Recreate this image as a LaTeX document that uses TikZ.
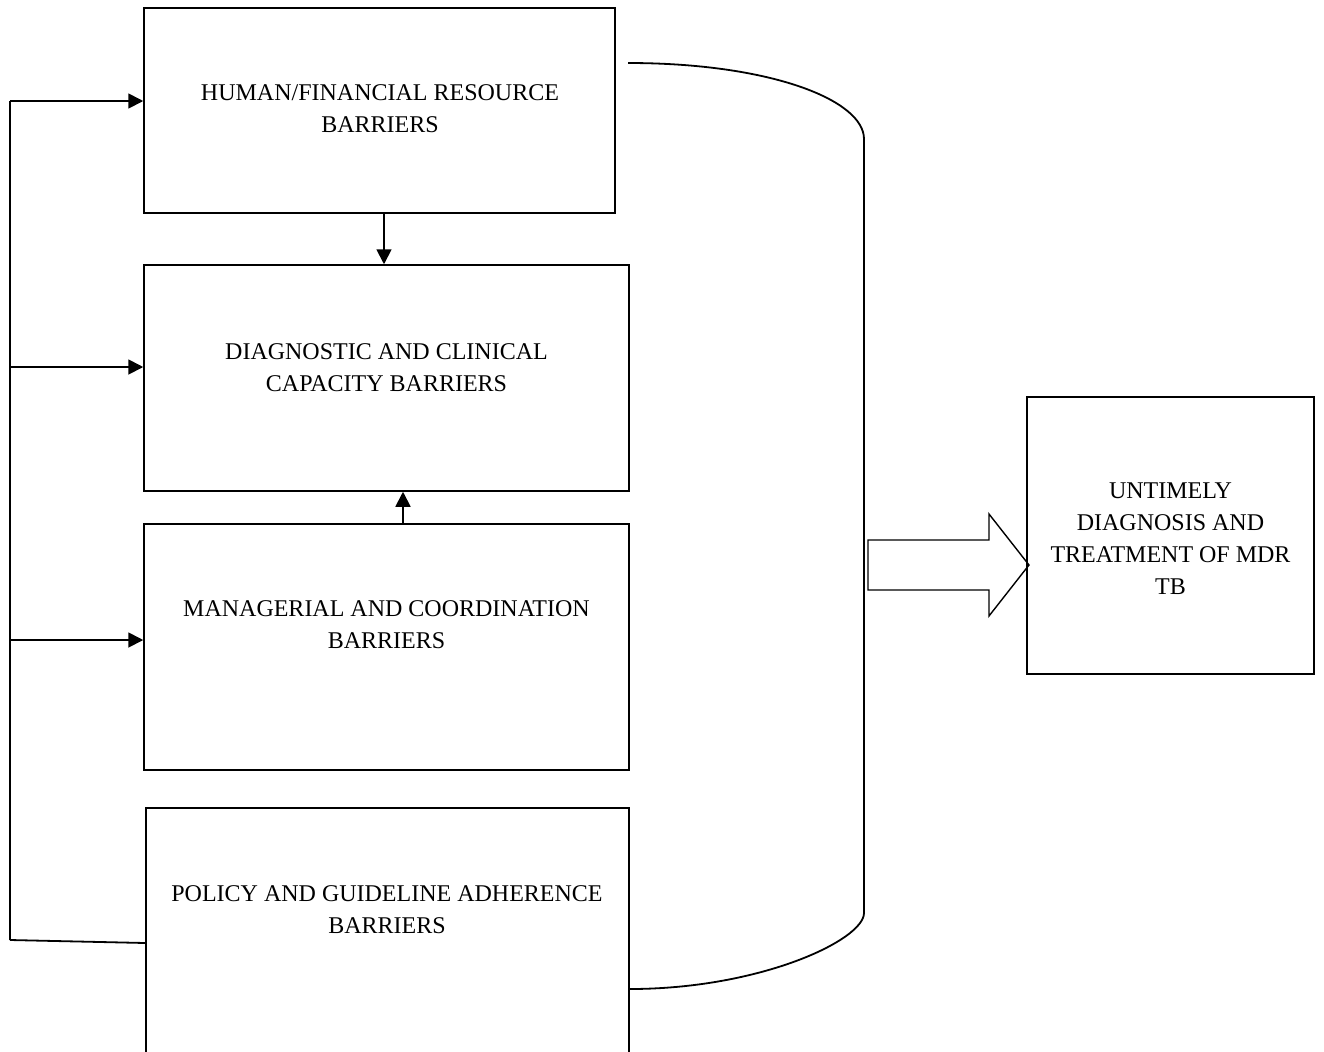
\documentclass[tikz,border=0pt]{standalone}
\usepackage{fontspec}
\setmainfont{Liberation Serif}
\usetikzlibrary{arrows.meta}
\begin{document}
\begin{tikzpicture}[x=0.5pt,y=-0.5pt,
  boxstyle/.style={draw,line width=0.75pt,rectangle,inner sep=0pt},
  lbl/.style={align=center,inner sep=0pt,font=\fontsize{12pt}{16pt}\selectfont},
  arr/.style={line width=0.9pt,-{Triangle[length=7.5pt,width=7.5pt]}},
  ln/.style={line width=0.9pt}]
\useasboundingbox (0,0) rectangle (1324,1051);
\clip (0,0) rectangle (1324,1051);
% boxes
\node[boxstyle,minimum width=235.5pt,minimum height=102.5pt] (box1) at (379.5,110.5) {};
\node[boxstyle,minimum width=242.5pt,minimum height=113pt] (box2) at (386.5,378) {};
\node[boxstyle,minimum width=242.5pt,minimum height=123pt] (box3) at (386.5,647) {};
\node[boxstyle,minimum width=241.5pt,minimum height=131pt] (box4) at (387.5,939) {};
\node[boxstyle,minimum width=143.5pt,minimum height=138.5pt] (box5) at (1170.5,535.5) {};
% labels
\node[lbl] (t1) at (380,109) {HUMAN/FINANCIAL RESOURCE\\BARRIERS};
\node[lbl] (t2) at (386.5,368) {DIAGNOSTIC AND CLINICAL\\CAPACITY BARRIERS};
\node[lbl] (t3) at (386.5,625) {MANAGERIAL AND COORDINATION\\BARRIERS};
\node[lbl] (t4) at (387,910) {POLICY AND GUIDELINE ADHERENCE\\BARRIERS};
\node[lbl] (t5) at (1170.5,539) {UNTIMELY\\DIAGNOSIS AND\\TREATMENT OF MDR\\TB};
% left feedback line
\coordinate (L1) at (10,101);
\coordinate (L2) at (10,367);
\coordinate (L3) at (10,640);
\coordinate (L4) at (10,940);
\draw[ln] (L1) -- (L4);
\draw[arr] (L1) -- (L1 -| box1.west);
\draw[arr] (L2) -- (L2 -| box2.west);
\draw[arr] (L3) -- (L3 -| box3.west);
\draw[ln] (L4) -- ([yshift=-2pt]box4.west);
% vertical arrows
\draw[arr] (box1.south -| 384,0) -- (box2.north -| 384,0);
\draw[arr] (box3.north -| 403,0) -- (box2.south -| 403,0);
% brace curve
\coordinate (C1) at (628,63);
\draw[ln] (C1) .. controls (770,63) and (864,100) .. (864,139)
  -- (864,913) .. controls (864,940) and (760,989) .. (box4.east |- 0,989);
% block arrow
\draw[line width=0.7pt] (868,540) -- (989,540) -- (989,514) -- (1029,565)
  -- (989,616) -- (989,590) -- (868,590) -- cycle;
\end{tikzpicture}
\end{document}
